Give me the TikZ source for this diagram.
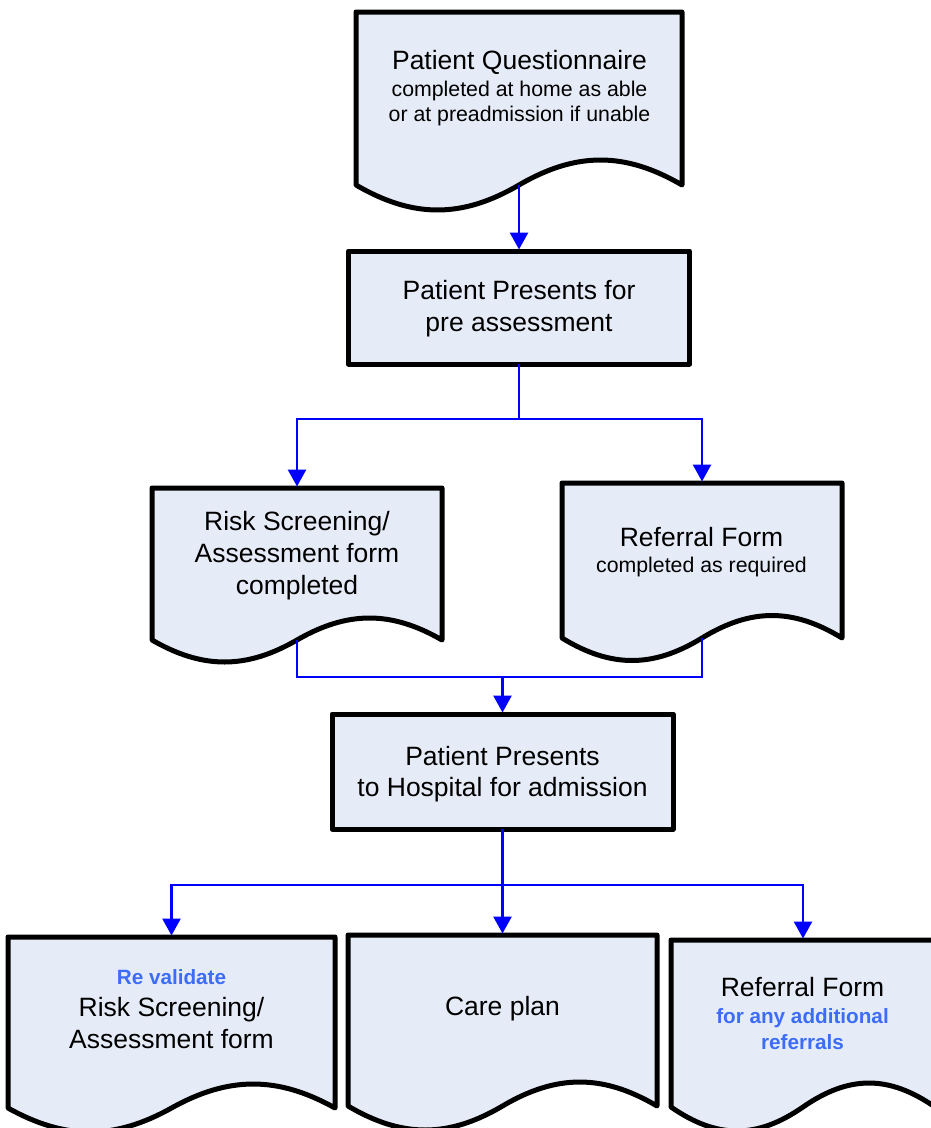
\documentclass[tikz,border=0pt]{standalone}
\usepackage{fontspec}
\setmainfont{Liberation Sans}
\usetikzlibrary{arrows.meta}
\definecolor{docfill}{RGB}{230,236,247}
\definecolor{conn}{RGB}{0,0,255}
\definecolor{hl}{RGB}{61,109,247}
\newcommand\bigf{\fontsize{26.5}{31}\selectfont}
\newcommand\smallf{\fontsize{21.3}{25}\selectfont}
\newcommand\hlf{\fontsize{20.7}{25}\selectfont\bfseries\color{hl}}
% #1 name, #2 x0, #3 ytop, #4 x1, #5 yb, #6 amplitude
\newcommand\docshape[6]{%
  \draw[boxline] (#2,#5) -- (#2,#3) -- (#4,#3) -- (#4,#5)
    .. controls ({#4-0.175*(#4-#2)},{#5-1.333*#6}) and ({#4-0.325*(#4-#2)},{#5-1.333*#6}) .. ({0.5*(#2+#4)},#5)
    .. controls ({#2+0.325*(#4-#2)},{#5+1.333*#6}) and ({#2+0.175*(#4-#2)},{#5+1.333*#6}) .. (#2,#5) -- cycle;
  \node[body, minimum width={(#4-#2)*1pt}, minimum height={(#5-#3)*1pt}] (#1) at ({0.5*(#2+#4)},{0.5*(#3+#5)}) {};
  \coordinate (#1-b) at ({0.5*(#2+#4)},#5);
}
\begin{document}
\begin{tikzpicture}[x=1pt,y=-1pt,
  boxline/.style={draw=black, line width=5pt, line join=round, fill=docfill},
  body/.style={inner sep=0pt, outer sep=0pt},
  procbox/.style={boxline, inner sep=0pt, outer sep=0pt},
  txt/.style={anchor=base, inner sep=0pt},
  conn/.style={draw=conn, line width=2.8pt},
  arr/.style={conn, -{Triangle[width=18pt,length=17pt]}, shorten >=1.5pt}]
\useasboundingbox (0,0) rectangle (931,1128);

% ---------- shapes ----------
\docshape{quest}{356}{12}{682}{185}{25}
\node[procbox, minimum width=341pt, minimum height=113pt] (pre) at (519,307.5) {};
\docshape{risk}{152}{488}{442}{640}{22}
\docshape{ref}{562}{483}{842}{638}{22.5}
\node[procbox, minimum width=341pt, minimum height=115pt] (adm) at (502.5,771.5) {};
\docshape{reval}{8}{937}{335}{1108}{24}
\docshape{care}{348}{935}{657}{1106}{24}
\docshape{refadd}{671}{940}{935}{1107}{24}

% ---------- texts ----------
\node[txt] (q1) at (519.5,69) {\bigf Patient Questionnaire};
\node[txt] (q2) at (519.5,96) {\smallf completed at home as able};
\node[txt] (q3) at (519.5,121) {\smallf or at preadmission if unable};

\node[txt] (p1) at (519,299) {\bigf Patient Presents for};
\node[txt] (p2) at (519,331) {\bigf pre assessment};

\node[txt] (r1) at (297,530) {\bigf Risk Screening/};
\node[txt] (r2) at (297,562) {\bigf Assessment form};
\node[txt] (r3) at (297,594) {\bigf completed};

\node[txt] (f1) at (701.5,546) {\bigf Referral Form};
\node[txt] (f2) at (701.5,572) {\smallf completed as required};

\node[txt] (a1) at (502.5,765) {\bigf Patient Presents};
\node[txt] (a2) at (502.5,796) {\bigf to Hospital for admission};

\node[txt] (v1) at (171.5,984) {\hlf Re validate};
\node[txt] (v2) at (171.5,1016) {\bigf Risk Screening/};
\node[txt] (v3) at (171.5,1048) {\bigf Assessment form};

\node[txt] (c1) at (502.5,1015) {\bigf Care plan};

\node[txt] (e1) at (802.5,996) {\bigf Referral Form};
\node[txt] (e2) at (802.5,1023) {\hlf for any additional};
\node[txt] (e3) at (802.5,1049) {\hlf referrals};

% ---------- connectors ----------
\coordinate (j1) at (519,419);
\coordinate (j2) at (502.5,677);
\coordinate (j3) at (502.5,885);

\draw[arr] (quest-b) -- (pre.north);
\draw[conn] (pre.south) -- (j1);
\draw[arr] (j1) -| (risk.north);
\draw[arr] (j1) -| (ref.north);

\draw[conn] (risk-b) |- (j2) -| (ref-b);
\draw[arr] (j2) -- (adm.north);

\draw[conn] (adm.south) -- (j3);
\draw[arr] (j3) -| (reval.north);
\draw[arr] (j3) -- (care.north);
\draw[arr] (j3) -| (refadd.north);
\end{tikzpicture}
\end{document}
